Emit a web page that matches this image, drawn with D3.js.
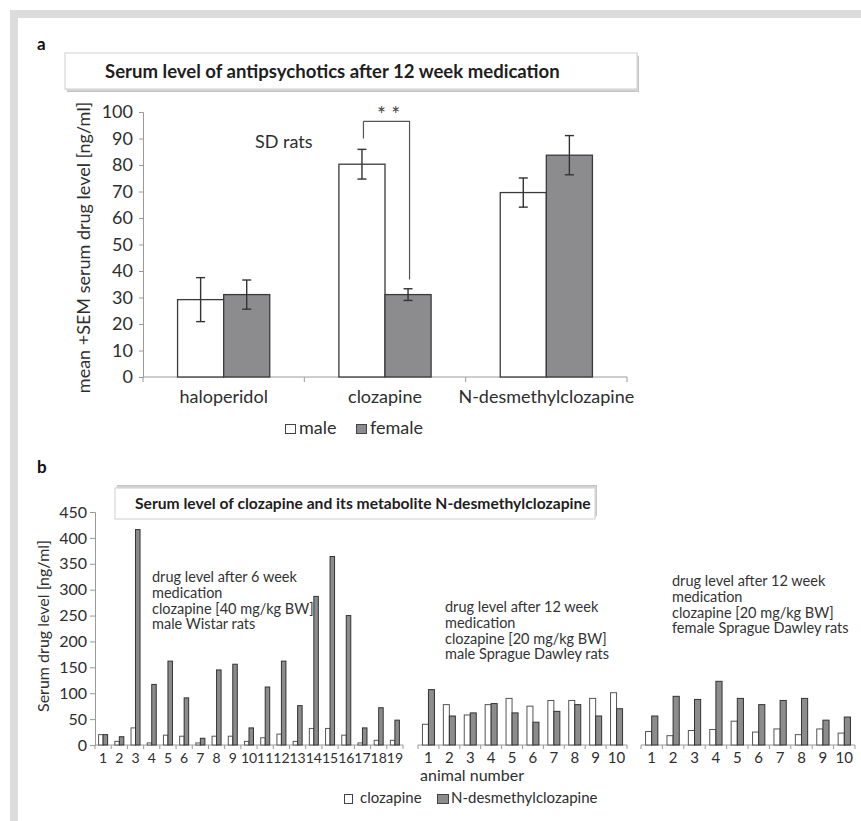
<!DOCTYPE html>
<html>
<head>
<meta charset="utf-8">
<script src="https://cdn.jsdelivr.net/npm/d3@7/dist/d3.min.js"></script>
<style>
  html, body { margin: 0; padding: 0; background: #fff; }
  svg { display: block; font-family: Lato, "Open Sans", sans-serif; }
</style>
</head>
<body>
<div id="chart"></div>
<script>
// ---- Panel a: mean serum levels after 12 weeks (SD rats) ----
const drugCategories = ["haloperidol", "clozapine", "N-desmethylclozapine"];
const sexes = ["male", "female"];
const maleMean = [29.2, 80.3, 69.6];
const maleSem = [8.3, 5.6, 5.5];
const femaleMean = [31.1, 31.1, 83.7];
const femaleSem = [5.5, 2.2, 7.4];
const panelATicks = [0, 10, 20, 30, 40, 50, 60, 70, 80, 90, 100];
// significance bracket between clozapine male and female (value levels)
const bracketTop = 96.5, bracketLeftEnd = 90, bracketRightEnd = 36.8;

// ---- Panel b: individual clozapine / N-desmethylclozapine levels ----
const wistarAnimals = ["1","2","3","4","5","6","7","8","9","10","11","12","13","14","15","16","17","18","19"];
const wistarClozapine = [20, 7, 33, 4, 19, 17, 4, 17, 17, 7, 14, 21, 7, 32, 32, 19, 4, 9, 9];
const wistarNdmc = [20, 16, 416, 117, 162, 91, 13, 145, 156, 33, 112, 162, 76, 287, 364, 250, 33, 72, 48];
const sdMaleAnimals = ["1","2","3","4","5","6","7","8","9","10"];
const sdMaleClozapine = [40, 78, 58, 78, 90, 75, 86, 86, 90, 101];
const sdMaleNdmc = [107, 56, 62, 80, 62, 44, 65, 78, 56, 70];
const sdFemaleAnimals = ["1","2","3","4","5","6","7","8","9","10"];
const sdFemaleClozapine = [26, 18, 28, 30, 46, 25, 31, 20, 31, 23];
const sdFemaleNdmc = [56, 94, 88, 123, 90, 78, 86, 90, 48, 54];
const panelBTicks = [0, 50, 100, 150, 200, 250, 300, 350, 400, 450];

const wistarNote = ["drug level after 6 week", "medication", "clozapine [40 mg/kg BW]", "male Wistar rats"];
const sdMaleNote = ["drug level after 12 week", "medication", "clozapine [20 mg/kg BW]", "male Sprague Dawley rats"];
const sdFemaleNote = ["drug level after 12 week", "medication", "clozapine [20 mg/kg BW]", "female Sprague Dawley rats"];

const TEXT = "#2e2e2e", AXIS = "#9a9a9a", GRAY_FILL = "#8c8c8e", EDGE = "#3a3a3a";

const svg = d3.select("#chart").append("svg")
  .attr("width", 861).attr("height", 821);

svg.append("rect").attr("width", 861).attr("height", 821).attr("fill", "#fff");

// light gray frame along top and left
svg.append("rect").attr("x", 10).attr("y", 10).attr("width", 851).attr("height", 8).attr("fill", "#dcdcdc");
svg.append("rect").attr("x", 10).attr("y", 10).attr("width", 8).attr("height", 811).attr("fill", "#dcdcdc");

// scale a text's font size so that it spans the given width
function fitWidth(sel, width) {
  const node = sel.node();
  const len = node.getComputedTextLength();
  const fs = parseFloat(sel.attr("font-size"));
  if (len > 0) sel.attr("font-size", (fs * width / len).toFixed(2));
}

// shadowed title box
function titleBox(x, y, w, h, shadowDy, text, tx, ty, size, textWidth) {
  svg.append("rect").attr("x", x + 2).attr("y", y + shadowDy).attr("width", w).attr("height", h)
    .attr("fill", "#c4c4c4");
  svg.append("rect").attr("x", x + 1).attr("y", y + shadowDy / 2).attr("width", w).attr("height", h)
    .attr("fill", "#dedede");
  svg.append("rect").attr("x", x).attr("y", y).attr("width", w).attr("height", h)
    .attr("fill", "#fff").attr("stroke", "#cfcfcf").attr("stroke-width", 1);
  const t = svg.append("text").attr("x", tx).attr("y", ty).attr("fill", "#1e1e1e")
    .attr("font-size", size).attr("font-weight", 700).text(text);
  fitWidth(t, textWidth);
}

// ================= Panel a =================
svg.append("text").attr("x", 37).attr("y", 50).attr("font-size", 17).attr("font-weight", 700)
  .attr("fill", "#111").text("a");

titleBox(65, 53, 572, 36, 3, "Serum level of antipsychotics after 12 week medication", 105, 78, 18, 455);

const yA = d3.scaleLinear().domain([0, 100]).range([377, 112]);
const xA = d3.scaleBand().domain(drugCategories).range([143, 627]);
const xSex = d3.scaleBand().domain(sexes).range([0, xA.bandwidth()]).paddingOuter(0.75);

const gA = svg.append("g");

const yAxisA = gA.append("g").attr("transform", "translate(143,0)")
  .call(d3.axisLeft(yA).tickValues(panelATicks).tickSize(4).tickPadding(6));
yAxisA.select(".domain").attr("stroke", AXIS);
yAxisA.selectAll(".tick line").attr("stroke", AXIS);
yAxisA.selectAll(".tick text").attr("font-size", 18).attr("fill", TEXT).attr("font-family", "Lato, sans-serif");

// x axis with category boundary ticks
gA.append("line").attr("x1", 143).attr("x2", 627).attr("y1", yA(0)).attr("y2", yA(0)).attr("stroke", AXIS);
const boundsA = drugCategories.map(c => xA(c)).concat([xA.range()[1]]);
gA.selectAll(".bt").data(boundsA).join("line")
  .attr("x1", d => d).attr("x2", d => d).attr("y1", yA(0)).attr("y2", yA(0) + 5).attr("stroke", AXIS);
gA.selectAll(".cat").data(drugCategories).join("text")
  .attr("x", d => xA(d) + xA.bandwidth() / 2).attr("y", 403).attr("text-anchor", "middle")
  .attr("font-size", 18).attr("fill", TEXT).text(d => d);

const barsA = drugCategories.flatMap((c, i) => [
  { cat: c, sex: "male", mean: maleMean[i], sem: maleSem[i] },
  { cat: c, sex: "female", mean: femaleMean[i], sem: femaleSem[i] }
]);

gA.selectAll(".barA").data(barsA).join("rect")
  .attr("x", d => xA(d.cat) + xSex(d.sex))
  .attr("y", d => yA(d.mean))
  .attr("width", xSex.bandwidth())
  .attr("height", d => yA(0) - yA(d.mean))
  .attr("fill", d => d.sex === "male" ? "#fff" : GRAY_FILL)
  .attr("stroke", EDGE).attr("stroke-width", 1.3);

const cx = d => xA(d.cat) + xSex(d.sex) + xSex.bandwidth() / 2;
const err = gA.selectAll(".err").data(barsA).join("g").attr("stroke", "#333").attr("stroke-width", 1.4);
err.append("line").attr("x1", cx).attr("x2", cx).attr("y1", d => yA(d.mean + d.sem)).attr("y2", d => yA(d.mean - d.sem));
err.append("line").attr("x1", d => cx(d) - 4.5).attr("x2", d => cx(d) + 4.5).attr("y1", d => yA(d.mean + d.sem)).attr("y2", d => yA(d.mean + d.sem));
err.append("line").attr("x1", d => cx(d) - 4.5).attr("x2", d => cx(d) + 4.5).attr("y1", d => yA(d.mean - d.sem)).attr("y2", d => yA(d.mean - d.sem));

// significance bracket for clozapine
const bxL = cx({ cat: "clozapine", sex: "male" }) + 1.5;
const bxR = cx({ cat: "clozapine", sex: "female" }) + 1.5;
gA.append("path")
  .attr("d", `M${bxL},${yA(bracketTop)}V${yA(bracketLeftEnd)}M${bxL},${yA(bracketTop)}H${bxR}V${yA(bracketRightEnd)}`)
  .attr("fill", "none").attr("stroke", "#555").attr("stroke-width", 1.2);
gA.append("text").attr("x", (bxL + bxR) / 2 + 2).attr("y", yA(bracketTop) + 1).attr("text-anchor", "middle")
  .attr("font-size", 21).attr("fill", "#444").text("* *");

gA.append("text").attr("x", 255).attr("y", 148).attr("font-size", 18).attr("fill", TEXT).text("SD rats");

gA.append("text").attr("transform", `translate(90,${(102 + 393) / 2}) rotate(-90)`)
  .attr("text-anchor", "middle").attr("font-size", 18).attr("fill", TEXT)
  .text("mean +SEM serum drug level [ng/ml]");

// legend a
const legA = gA.append("g");
legA.append("rect").attr("x", 285.5).attr("y", 424.5).attr("width", 10).attr("height", 9)
  .attr("fill", "#fff").attr("stroke", "#444");
legA.append("text").attr("x", 299).attr("y", 434).attr("font-size", 18).attr("fill", TEXT).text("male");
legA.append("rect").attr("x", 356.5).attr("y", 424.5).attr("width", 10).attr("height", 9)
  .attr("fill", GRAY_FILL).attr("stroke", "#444");
legA.append("text").attr("x", 370).attr("y", 434).attr("font-size", 18).attr("fill", TEXT).text("female");

// ================= Panel b =================
svg.append("text").attr("x", 37).attr("y", 473).attr("font-size", 17).attr("font-weight", 700)
  .attr("fill", "#111").text("b");

titleBox(115, 488, 480, 31, -3, "Serum level of clozapine and its metabolite N-desmethylclozapine", 135, 509, 15.5, 456);

const yB = d3.scaleLinear().domain([0, 450]).range([745, 512]);
const gB = svg.append("g");

const yAxisB = gB.append("g").attr("transform", "translate(95,0)")
  .call(d3.axisLeft(yB).tickValues(panelBTicks).tickSize(5).tickPadding(3));
yAxisB.select(".domain").attr("stroke", AXIS);
yAxisB.selectAll(".tick line").attr("stroke", AXIS);
yAxisB.selectAll(".tick text").attr("font-size", 16).attr("fill", TEXT).attr("font-family", "Lato, sans-serif");

gB.append("text").attr("transform", `translate(49,626) rotate(-90)`)
  .attr("text-anchor", "middle").attr("font-size", 16).attr("fill", TEXT)
  .text("Serum drug level [ng/ml]");

const groups = [
  { ids: wistarAnimals, cloz: wistarClozapine, ndmc: wistarNdmc, range: [95, 403], pad: 0.8, fs: 14 },
  { ids: sdMaleAnimals, cloz: sdMaleClozapine, ndmc: sdMaleNdmc, range: [418, 627], pad: 0.74, fs: 15 },
  { ids: sdFemaleAnimals, cloz: sdFemaleClozapine, ndmc: sdFemaleNdmc, range: [641, 855], pad: 0.74, fs: 15 }
];

groups.forEach(g => {
  const x = d3.scaleBand().domain(g.ids).range(g.range);
  const xi = d3.scaleBand().domain(["cloz", "ndmc"]).range([0, x.bandwidth()]).paddingOuter(g.pad);
  const gg = gB.append("g");
  gg.append("line").attr("x1", g.range[0]).attr("x2", g.range[1]).attr("y1", yB(0)).attr("y2", yB(0))
    .attr("stroke", AXIS);
  const bounds = g.ids.map(d => x(d)).concat([g.range[1]]);
  gg.selectAll(".bt").data(bounds).join("line")
    .attr("x1", d => d).attr("x2", d => d).attr("y1", yB(0)).attr("y2", yB(0) + 4).attr("stroke", AXIS);
  gg.selectAll(".lbl").data(g.ids).join("text")
    .attr("x", d => x(d) + x.bandwidth() / 2).attr("y", 763).attr("text-anchor", "middle")
    .attr("font-size", g.fs).attr("fill", TEXT).text(d => d);
  const rows = g.ids.flatMap((id, i) => [
    { id, k: "cloz", v: g.cloz[i] },
    { id, k: "ndmc", v: g.ndmc[i] }
  ]);
  gg.selectAll(".bar").data(rows).join("rect")
    .attr("x", d => x(d.id) + xi(d.k))
    .attr("y", d => yB(d.v))
    .attr("width", xi.bandwidth())
    .attr("height", d => yB(0) - yB(d.v))
    .attr("fill", d => d.k === "cloz" ? "#fff" : GRAY_FILL)
    .attr("stroke", d => d.k === "cloz" ? "#555" : "#333")
    .attr("stroke-width", 1);
});

// group annotations, one text line each
function note(lines, x, y0, dy) {
  lines.forEach((s, i) => gB.append("text").attr("x", x).attr("y", y0 + i * dy)
    .attr("font-size", 14.5).attr("fill", "#333").text(s));
}
note(wistarNote, 152, 582, 15.8);
note(sdMaleNote, 445, 612, 15.8);
note(sdFemaleNote, 672, 586, 15.8);

gB.append("text").attr("x", 472).attr("y", 781).attr("text-anchor", "middle")
  .attr("font-size", 16).attr("fill", TEXT).text("animal number");

// legend b
const legB = gB.append("g");
legB.append("rect").attr("x", 344.5).attr("y", 794.5).attr("width", 8).attr("height", 9)
  .attr("fill", "#fff").attr("stroke", "#444");
legB.append("text").attr("x", 360).attr("y", 803).attr("font-size", 15).attr("fill", TEXT).text("clozapine");
legB.append("rect").attr("x", 437.5).attr("y", 794.5).attr("width", 11).attr("height", 9)
  .attr("fill", GRAY_FILL).attr("stroke", "#444");
legB.append("text").attr("x", 451).attr("y", 803).attr("font-size", 15).attr("fill", TEXT).text("N-desmethylclozapine");
</script>
</body>
</html>
